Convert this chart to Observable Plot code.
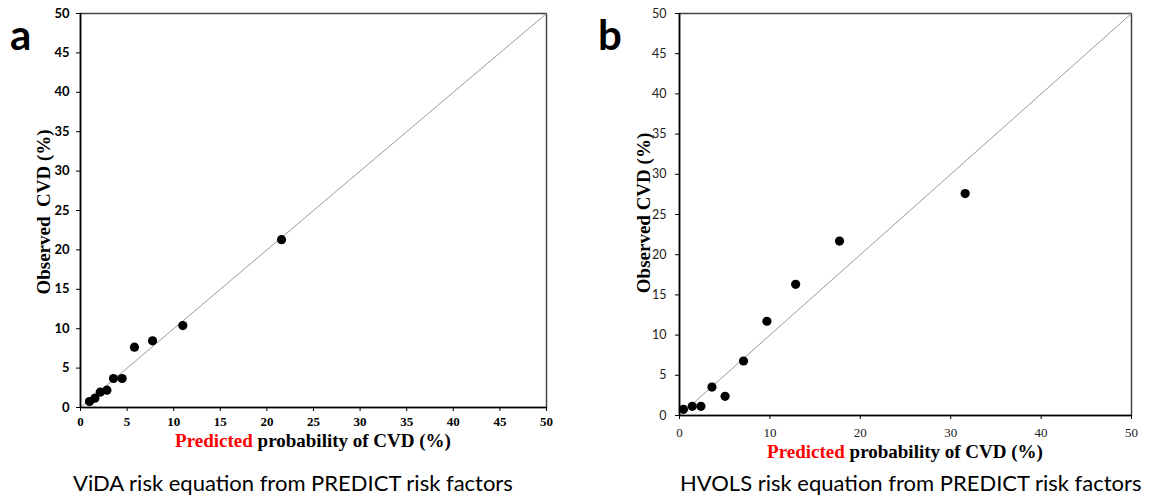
<!DOCTYPE html>
<html><head><meta charset="utf-8">
<script src="https://cdn.jsdelivr.net/npm/d3@7"></script>
<script src="https://cdn.jsdelivr.net/npm/@observablehq/plot@0.6"></script>
<style>
html,body{margin:0;padding:0;background:#fff;}
#wrap{position:relative;width:1150px;height:496px;overflow:hidden;background:#fff;}
.panel{position:absolute;top:0;}
#overlay{position:absolute;left:0;top:0;}
</style></head><body><div id="wrap"></div>
<script>
// ---- data ----
const vidaPredicted  = [0.97, 1.54, 2.11, 2.83, 3.54, 4.47, 5.79, 7.73, 10.98, 21.57];
const vidaObserved   = [0.76, 1.18, 1.94, 2.20, 3.68, 3.68, 7.65, 8.46, 10.40, 21.30];
const hvolsPredicted = [0.44, 1.41, 2.37, 3.59, 5.04, 7.08, 9.67, 12.85, 17.70, 31.60];
const hvolsObserved  = [0.77, 1.14, 1.14, 3.54, 2.39, 6.78, 11.72, 16.32, 21.70, 27.60];
const axisRange = [0, 50];               // also the identity line y = x
const ticksA  = [0, 5, 10, 15, 20, 25, 30, 35, 40, 45, 50];
const ticksBx = [0, 10, 20, 30, 40, 50];
const ticksBy = [0, 5, 10, 15, 20, 25, 30, 35, 40, 45, 50];
const panelLetters = ["a", "b"];
const yTitles = ["Observed  CVD (%)", "Observed CVD (%)"];
const xTitleRed = "Predicted";
const xTitleRest = " probability of CVD (%)";
const captions = ["ViDA risk equation from PREDICT risk factors", "HVOLS risk equation from PREDICT risk factors"];

const wrap = document.getElementById("wrap");

function makePanel(cfg) {
  const data = cfg.px.map((x, i) => ({x, y: cfg.py[i]}));
  const p = Plot.plot({
    width: cfg.width, height: cfg.height,
    marginLeft: cfg.mL, marginRight: cfg.mR, marginTop: cfg.mT, marginBottom: cfg.mB,
    style: {background: "transparent", overflow: "visible"},
    x: {domain: axisRange},
    y: {domain: axisRange},
    marks: [
      Plot.frame({stroke: "#444", strokeWidth: 1.5}),
      Plot.line(axisRange, {x: d => d, y: d => d, stroke: "#9a9a9a", strokeWidth: 1}),
      Plot.axisX({ticks: cfg.xTicks, tickSize: 4, tickPadding: cfg.xPad, label: null, stroke: "#000"}),
      Plot.axisY({ticks: cfg.yTicks, tickSize: 4, tickPadding: cfg.yPad, label: null, stroke: "#000"}),
      Plot.ruleX([0], {stroke: "#000", strokeWidth: 1.6}),
      Plot.ruleY([0], {stroke: "#000", strokeWidth: 1.6}),
      Plot.dot(data, {x: "x", y: "y", r: 4.6, fill: "#000", stroke: "none"})
    ]
  });
  p.classList.add("panel");
  p.style.left = cfg.left + "px";
  const sx = d3.select(p).selectAll('g[aria-label="x-axis tick label"]');
  sx.attr("font-family", cfg.xFont).attr("font-weight", cfg.xWeight).attr("font-size", cfg.xSize).attr("fill", cfg.color);
  const sy = d3.select(p).selectAll('g[aria-label="y-axis tick label"]');
  sy.attr("font-family", cfg.yFont).attr("font-weight", cfg.yWeight).attr("font-size", cfg.ySize).attr("fill", cfg.color);
  wrap.appendChild(p);
}

makePanel({px: vidaPredicted, py: vidaObserved, left: 0, width: 575, height: 470,
  mL: 80, mR: 29, mT: 13, mB: 63, xTicks: ticksA, yTicks: ticksA, xPad: 5, yPad: 7,
  xFont: "Liberation Serif, serif", xWeight: "bold", xSize: 13,
  yFont: "Lato, sans-serif", yWeight: "bold", ySize: 13, color: "#000"});

makePanel({px: hvolsPredicted, py: hvolsObserved, left: 575, width: 575, height: 480,
  mL: 104, mR: 19, mT: 13, mB: 65, xTicks: ticksBx, yTicks: ticksBy, xPad: 8, yPad: 9,
  xFont: "Liberation Serif, serif", xWeight: "normal", xSize: 13,
  yFont: "Lato, sans-serif", yWeight: "normal", ySize: 12.5, color: "#222"});

// ---- overlay text (panel letters, axis titles, captions) ----
const ov = d3.select(wrap).append("svg").attr("id", "overlay").attr("width", 1150).attr("height", 496);
const letterPos = [[10, 50], [598, 50]];
panelLetters.forEach((t, i) => {
  ov.append("text").attr("x", letterPos[i][0]).attr("y", letterPos[i][1])
    .attr("font-family", "Lato, sans-serif").attr("font-weight", "bold").attr("font-size", 42).text(t);
});
const yTitlePos = [[43, 212], [643, 213]];
yTitles.forEach((t, i) => {
  ov.append("text").attr("transform", `translate(${yTitlePos[i][0]},${yTitlePos[i][1]}) rotate(-90)`)
    .attr("text-anchor", "middle").attr("dominant-baseline", "central").style("white-space", "pre")
    .attr("font-family", "Liberation Serif, serif").attr("font-weight", "bold").attr("font-size", 19).text(t);
});
const xTitlePos = [[313, 447], [905, 458]];
xTitlePos.forEach(([x, y]) => {
  const t = ov.append("text").attr("x", x).attr("y", y).attr("text-anchor", "middle")
    .attr("font-family", "Liberation Serif, serif").attr("font-weight", "bold").attr("font-size", 19).style("white-space", "pre");
  t.append("tspan").attr("fill", "#ff0000").text(xTitleRed);
  t.append("tspan").attr("fill", "#000").text(xTitleRest);
});
const capPos = [[73, 491], [680, 491]];
captions.forEach((c, i) => {
  ov.append("text").attr("x", capPos[i][0]).attr("y", capPos[i][1])
    .attr("font-family", "Lato, sans-serif").attr("font-size", 22).attr("fill", "#000").text(c);
});
</script></body></html>
